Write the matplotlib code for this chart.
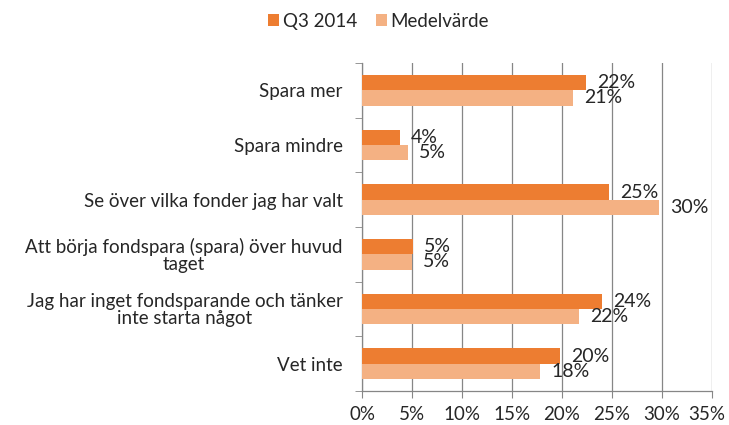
import numpy as np
import matplotlib.pyplot as plt
from matplotlib.transforms import ScaledTranslation

# Data
categories = [
    "Spara mer",
    "Spara mindre",
    "Se över vilka fonder jag har valt",
    "Att börja fondspara (spara) över huvud\ntaget",
    "Jag har inget fondsparande och tänker\ninte starta något",
    "Vet inte",
]
q3_2014 = [22.4, 3.8, 24.7, 5.1, 24.0, 19.8]
medelvarde = [21.1, 4.6, 29.7, 4.95, 21.7, 17.8]
xticks = [0, 5, 10, 15, 20, 25, 30, 35]

c_q3 = "#ED7D31"
c_med = "#F4B183"
grid_c = "#868686"
text_c = "#262626"

plt.rcParams['font.family'] = ['Lato', 'DejaVu Sans']

fig = plt.figure(figsize=(7.29, 4.25), dpi=100)
ax = fig.add_axes([0.4966, 0.08, 0.480, 0.7718])

y = np.arange(len(categories))
h = 0.28
b1 = ax.barh(y - h / 2, q3_2014, height=h, color=c_q3, label="Q3 2014", zorder=3)
b2 = ax.barh(y + h / 2, medelvarde, height=h, color=c_med, label="Medelvärde", zorder=3)

for bars, vals in ((b1, q3_2014), (b2, medelvarde)):
    for bar, v in zip(bars, vals):
        ax.annotate(f"{v:.0f}%", (bar.get_width(), bar.get_y() + bar.get_height() / 2),
                    xytext=(8, 0), textcoords="offset points", ha="left", va="center",
                    fontsize=14, color=text_c)

ax.set_ylim(len(categories) - 0.5, -0.5)
ax.set_xlim(0, 35)
ax.set_xticks(xticks)
ax.set_xticklabels([f"{t}%" for t in xticks], fontsize=13.5, color=text_c)
ax.set_yticks(y)
ax.set_yticklabels(categories, fontsize=13.5, color=text_c, multialignment="center",
                   linespacing=0.95)
ax.set_yticks(np.arange(len(categories) + 1) - 0.5, minor=True)

ax.tick_params(axis="y", which="major", length=0, pad=14)
ax.tick_params(axis="y", which="minor", length=5, color=grid_c, direction="out")
ax.tick_params(axis="x", length=5, color=grid_c, direction="out", pad=6)

# last tick label nudged left so it stays inside the figure
last = ax.get_xticklabels()[-1]
last.set_transform(last.get_transform() + ScaledTranslation(-4 / 72, 0, fig.dpi_scale_trans))

ax.grid(axis="x", color=grid_c, lw=0.9, zorder=0)
for s in ("top", "right"):
    ax.spines[s].set_visible(False)
for s in ("left", "bottom"):
    ax.spines[s].set_color(grid_c)
    ax.spines[s].set_linewidth(0.9)

fig.legend(handles=[b1, b2], loc="center", bbox_to_anchor=(0.519, 0.95), ncol=2,
           frameon=False, fontsize=13.5, handlelength=0.6, handleheight=0.6,
           handletextpad=0.2, columnspacing=1.0, labelcolor=text_c)

fig.savefig("out.png", dpi=100)
